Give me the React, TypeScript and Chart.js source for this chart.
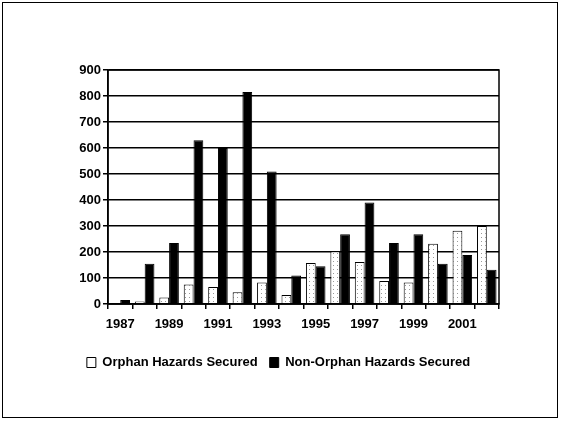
import React, { useEffect, useRef } from "react";
import { Chart, registerables } from "chart.js";

Chart.register(...registerables);

const years = ["1987","1988","1989","1990","1991","1992","1993","1994","1995","1996","1997","1998","1999","2000","2001","2002"];
const orphan = [3, 10, 25, 75, 65, 45, 83, 35, 158, 203, 162, 88, 83, 232, 282, 300];
const nonOrphan = [15, 155, 235, 630, 600, 815, 510, 110, 145, 268, 390, 235, 268, 155, 188, 132];
const yTicks = [0, 100, 200, 300, 400, 500, 600, 700, 800, 900];

const FONT = "'Liberation Sans', Arial, sans-serif";

export default function App() {
  const ref = useRef<HTMLCanvasElement | null>(null);
  useEffect(() => {
    const canvas = ref.current!;
    const pc = document.createElement("canvas");
    pc.width = 4; pc.height = 4;
    const pctx = pc.getContext("2d")!;
    pctx.fillStyle = "#fff"; pctx.fillRect(0, 0, 4, 4);
    pctx.fillStyle = "#9a9a9a"; pctx.fillRect(1, 1, 1, 1);
    const pattern = canvas.getContext("2d")!.createPattern(pc, "repeat")!;

    const borderPlugin = {
      id: "plotBorder",
      afterDraw(chart: any) {
        const { ctx, chartArea } = chart;
        ctx.save();
        ctx.strokeStyle = "#000";
        ctx.lineWidth = 1.5;
        ctx.strokeRect(chartArea.left, chartArea.top, chartArea.right - chartArea.left, chartArea.bottom - chartArea.top);
        ctx.restore();
      },
    };

    const chart = new Chart(canvas, {
      type: "bar",
      data: {
        labels: years,
        datasets: [
          { label: "Orphan Hazards Secured", data: orphan, backgroundColor: pattern as any, borderColor: "#000", borderWidth: 1, categoryPercentage: 0.8, barPercentage: 1 },
          { label: "Non-Orphan Hazards Secured", data: nonOrphan, backgroundColor: "#000", borderColor: "#000", borderWidth: 1, categoryPercentage: 0.8, barPercentage: 1 },
        ],
      },
      options: {
        animation: false,
        responsive: false,
        layout: { padding: { left: 58, right: 63, top: 70, bottom: 43 } },
        plugins: {
          tooltip: { enabled: false },
          legend: {
            position: "bottom",
            labels: {
              font: { family: FONT, size: 13, weight: "bold" },
              color: "#000",
              boxWidth: 9,
              boxHeight: 10,
              padding: 12,
              generateLabels: () => [
                { text: "Orphan Hazards Secured", fillStyle: "#fff", strokeStyle: "#000", lineWidth: 1, datasetIndex: 0, fontColor: "#000" } as any,
                { text: "Non-Orphan Hazards Secured", fillStyle: "#000", strokeStyle: "#000", lineWidth: 1, datasetIndex: 1, fontColor: "#000" } as any,
              ],
            },
          },
        },
        scales: {
          x: {
            grid: { display: true, drawOnChartArea: false, offset: true, color: "#000", lineWidth: 1.5, tickLength: 5 },
            border: { display: true, color: "#000", width: 1.5 },
            ticks: {
              autoSkip: false,
              maxRotation: 0,
              color: "#000",
              font: { family: FONT, size: 13, weight: "bold" },
              padding: 8,
              callback: (_v: any, i: number) => (i % 2 === 0 ? years[i] : ""),
            },
            afterFit: (s: any) => { s.height = 40; },
          },
          y: {
            min: 0,
            max: 900,
            afterBuildTicks: (s: any) => { s.ticks = yTicks.map((v) => ({ value: v })); },
            grid: { color: "#000", lineWidth: 1.5, tickLength: 5 },
            border: { display: true, color: "#000", width: 1.5 },
            ticks: { color: "#000", font: { family: FONT, size: 13, weight: "bold" }, padding: 2 },
            afterFit: (s: any) => { s.width = 50; },
          },
        },
      },
      plugins: [borderPlugin],
    });
    return () => chart.destroy();
  }, []);

  return (
    <div style={{ position: "fixed", left: 0, top: 0, width: 562, height: 422, background: "#fff" }}>
      <canvas ref={ref} width={562} height={422} style={{ display: "block" }} />
      <div style={{ position: "absolute", left: 2, top: 2, width: 556, height: 416, border: "1.5px solid #000", boxSizing: "border-box", pointerEvents: "none" }} />
    </div>
  );
}
